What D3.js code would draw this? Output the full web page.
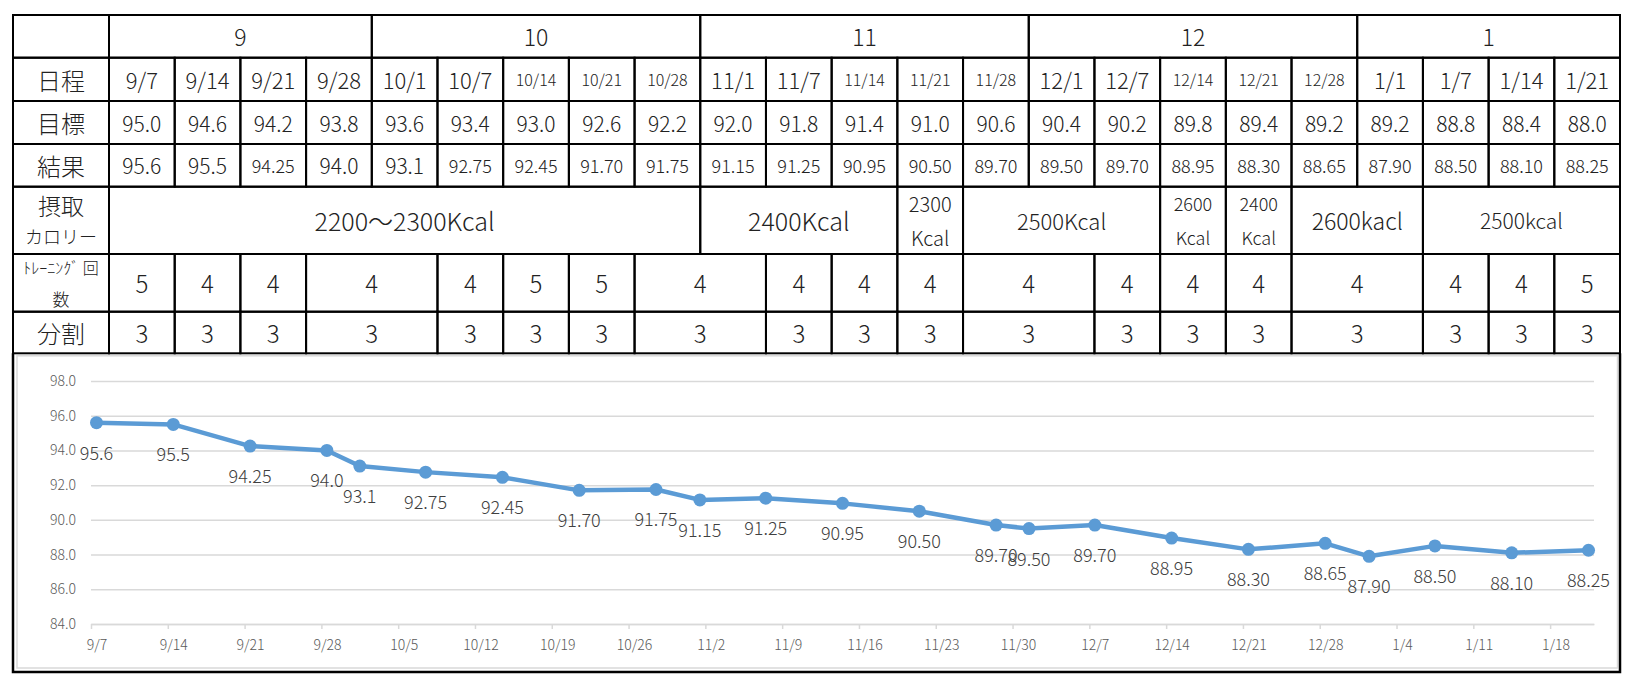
<!DOCTYPE html>
<html lang="ja">
<head>
<meta charset="utf-8">
<script src="https://cdn.jsdelivr.net/npm/d3@7"></script>
<style>
  body { margin: 0; background: #fff; }
  svg { display: block; font-family: 'Noto Sans CJK JP', 'Noto Sans', sans-serif; font-weight: 300; }
</style>
</head>
<body>
<div class="chart"></div>
<script>
// table data
const months = ['9', '10', '11', '12', '1']
const monthSpans = [4, 5, 5, 5, 4]
const dates = ['9/7', '9/14', '9/21', '9/28', '10/1', '10/7', '10/14', '10/21', '10/28',
  '11/1', '11/7', '11/14', '11/21', '11/28', '12/1', '12/7', '12/14', '12/21', '12/28',
  '1/1', '1/7', '1/14', '1/21']
const targets = ['95.0', '94.6', '94.2', '93.8', '93.6', '93.4', '93.0', '92.6', '92.2',
  '92.0', '91.8', '91.4', '91.0', '90.6', '90.4', '90.2', '89.8', '89.4', '89.2',
  '89.2', '88.8', '88.4', '88.0']
const results = ['95.6', '95.5', '94.25', '94.0', '93.1', '92.75', '92.45', '91.70', '91.75',
  '91.15', '91.25', '90.95', '90.50', '89.70', '89.50', '89.70', '88.95', '88.30', '88.65',
  '87.90', '88.50', '88.10', '88.25']
const calories = ['2200～2300Kcal', '2400Kcal', '2300\nKcal', '2500Kcal', '2600\nKcal',
  '2400\nKcal', '2600kacl', '2500kcal']
const calorieSpans = [9, 3, 1, 3, 1, 1, 2, 3]
const trainings = [5, 4, 4, 4, 4, 5, 5, 4, 4, 4, 4, 4, 4, 4, 4, 4, 4, 4, 5]
const splits = [3, 3, 3, 3, 3, 3, 3, 3, 3, 3, 3, 3, 3, 3, 3, 3, 3, 3, 3]
const weekSpans = [1, 1, 1, 2, 1, 1, 1, 2, 1, 1, 1, 2, 1, 1, 1, 2, 1, 1, 1]

// chart axis
const yTicks = [84, 86, 88, 90, 92, 94, 96, 98]
const axisStart = '9/7'
const axisEnd = '1/22'

;(function draw() {
  const width = 1636
  const height = 685
  const left = 13
  const right = 1620
  const labelCol = 109
  const rows = [15, 57.7, 101, 144, 186.7, 254, 311.7, 353.3]
  const bottom = 672
  const ink = '#222'
  const calorieFont = [25, 25, 20, 22, 18, 18, 23, 21]

  const svg = d3
    .select('.chart')
    .append('svg')
    .attr('width', width)
    .attr('height', height)

  svg.append('rect').attr('width', width).attr('height', height).attr('fill', '#fff')

  const col = d3.scaleLinear().domain([0, dates.length]).range([labelCol, right])

  const table = svg.append('g')

  // cells with spans, laid out from column 0
  function spanRow(items, spans, r, sizeOf) {
    let start = 0
    items.forEach((item, i) => {
      const span = spans ? spans[i] : 1
      const x0 = col(start)
      const x1 = col(start + span)
      start += span
      table
        .append('rect')
        .attr('x', x0)
        .attr('y', rows[r])
        .attr('width', x1 - x0)
        .attr('height', rows[r + 1] - rows[r])
        .attr('fill', 'none')
        .attr('stroke', '#000')
        .attr('stroke-width', 2)
      const lines = String(item).split('\n')
      const cy = (rows[r] + rows[r + 1]) / 2
      const gap = 34
      lines.forEach((line, k) => {
        table
          .append('text')
          .attr('x', (x0 + x1) / 2)
          .attr('y', cy + (k - (lines.length - 1) / 2) * gap)
          .attr('text-anchor', 'middle')
          .attr('dominant-baseline', 'central')
          .attr('font-size', sizeOf(item, i))
          .attr('fill', ink)
          .text(line)
      })
    })
  }

  spanRow(months, monthSpans, 0, () => 23)
  spanRow(dates, null, 1, (d) => (d.length >= 5 ? 16 : 22))
  spanRow(targets, null, 2, () => 21)
  spanRow(results, null, 3, (d) => (d.length >= 5 ? 18 : 21))
  spanRow(calories, calorieSpans, 4, (d, i) => calorieFont[i])
  spanRow(trainings, weekSpans, 5, () => 24)
  spanRow(splits, weekSpans, 6, () => 24)

  // row header column
  const headers = [[''], ['日程'], ['目標'], ['結果'], ['摂取', 'カロリー'], ['ﾄﾚｰﾆﾝｸﾞ 回', '数'], ['分割']]
  const headerFont = [[24], [24], [24], [24], [23, 18], [16, 17], [24]]
  headers.forEach((lines, r) => {
    table
      .append('rect')
      .attr('x', left)
      .attr('y', rows[r])
      .attr('width', labelCol - left)
      .attr('height', rows[r + 1] - rows[r])
      .attr('fill', 'none')
      .attr('stroke', '#000')
      .attr('stroke-width', 2)
    const cy = (rows[r] + rows[r + 1]) / 2
    lines.forEach((line, k) => {
      table
        .append('text')
        .attr('x', (left + labelCol) / 2)
        .attr('y', cy + (k - (lines.length - 1) / 2) * 31)
        .attr('text-anchor', 'middle')
        .attr('dominant-baseline', 'central')
        .attr('font-size', headerFont[r][k])
        .attr('fill', ink)
        .text(line)
    })
  })

  // chart frame
  svg
    .append('rect')
    .attr('x', 17)
    .attr('y', rows[7] + 2.5)
    .attr('width', right - 2.5 - 17)
    .attr('height', bottom - 4 - rows[7] - 2.5)
    .attr('fill', '#fff')
    .attr('stroke', '#d9d9d9')
    .attr('stroke-width', 1.5)

  svg
    .append('path')
    .attr('d', `M${left},${rows[7]}V${bottom}H${right}V${rows[7]}`)
    .attr('fill', 'none')
    .attr('stroke', '#000')
    .attr('stroke-width', 2.5)

  const parseDay = (s, hour) => {
    const [m, d] = s.split('/').map(Number)
    return new Date(m >= 9 ? 2019 : 2020, m - 1, d, hour)
  }

  const points = dates.map((d, i) => ({
    date: parseDay(d, 12),
    value: +results[i],
    label: results[i]
  }))

  const x0 = 91
  const x1 = 1594
  const x = d3
    .scaleTime()
    .domain([parseDay(axisStart, 0), parseDay(axisEnd, 0)])
    .range([x0, x1])
  const y = d3.scaleLinear().domain([84, 98]).range([624, 381])

  const plot = svg.append('g')

  const yAxis = plot
    .append('g')
    .attr('transform', `translate(${x0},0)`)
    .call(
      d3
        .axisLeft(y)
        .tickValues(yTicks)
        .tickSize(-(x1 - x0))
        .tickPadding(15)
        .tickFormat(d3.format('.1f'))
    )
  yAxis.select('.domain').remove()
  yAxis.selectAll('line').attr('stroke', '#d9d9d9').attr('stroke-width', 1.5)
  yAxis
    .selectAll('text')
    .attr('fill', '#595959')
    .attr('font-size', 14)
    .attr('font-family', "'Noto Sans CJK JP', sans-serif")

  const halfDay = x(parseDay(axisStart, 12)) - x(parseDay(axisStart, 0))
  const xAxis = plot
    .append('g')
    .attr('transform', `translate(0,${y(84)})`)
    .call(
      d3
        .axisBottom(x)
        .tickValues(d3.timeDay.range(parseDay(axisStart, 0), parseDay(axisEnd, 0), 7))
        .tickSize(5)
        .tickSizeOuter(0)
        .tickPadding(11)
        .tickFormat(d3.timeFormat('%-m/%-d'))
    )
  xAxis.select('.domain').attr('stroke', '#d9d9d9').attr('stroke-width', 1.5)
  xAxis.selectAll('line').attr('stroke', '#d9d9d9').attr('stroke-width', 1.5)
  xAxis
    .selectAll('text')
    .attr('x', halfDay)
    .attr('fill', '#595959')
    .attr('font-size', 14)
    .attr('font-family', "'Noto Sans CJK JP', sans-serif")

  const line = d3
    .line()
    .x((d) => x(d.date))
    .y((d) => y(d.value))

  plot
    .append('path')
    .datum(points)
    .attr('d', line)
    .attr('fill', 'none')
    .attr('stroke', '#5b9bd5')
    .attr('stroke-width', 4.5)
    .attr('stroke-linejoin', 'round')

  plot
    .selectAll('circle')
    .data(points)
    .enter()
    .append('circle')
    .attr('cx', (d) => x(d.date))
    .attr('cy', (d) => y(d.value))
    .attr('r', 6.5)
    .attr('fill', '#5b9bd5')

  plot
    .selectAll('.value')
    .data(points)
    .enter()
    .append('text')
    .attr('class', 'value')
    .attr('x', (d) => x(d.date))
    .attr('y', (d) => y(d.value) + 29)
    .attr('text-anchor', 'middle')
    .attr('dominant-baseline', 'central')
    .attr('font-size', 18)
    .attr('fill', '#404040')
    .text((d) => d.label)
})()
</script>
</body>
</html>
